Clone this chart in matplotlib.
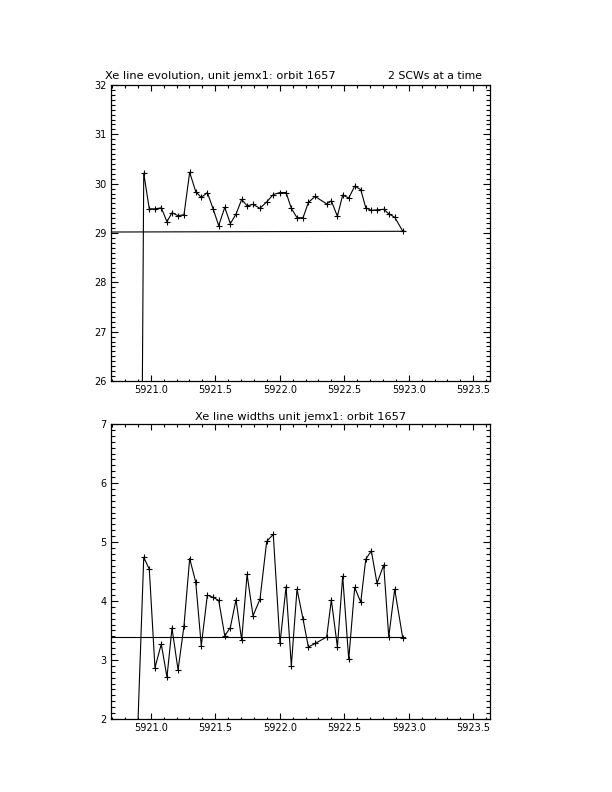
import matplotlib
matplotlib.use("Agg")
import matplotlib.pyplot as plt
from matplotlib.ticker import MultipleLocator, FormatStrFormatter

# ---- data ----
time = [5920.870, 5920.946, 5920.989, 5921.033, 5921.082, 5921.126, 5921.165, 5921.212,
        5921.258, 5921.302, 5921.349, 5921.392, 5921.439, 5921.485, 5921.527, 5921.574,
        5921.617, 5921.661, 5921.705, 5921.747, 5921.793, 5921.847, 5921.899, 5921.950,
        5922.002, 5922.049, 5922.090, 5922.134, 5922.181, 5922.222, 5922.274, 5922.364,
        5922.400, 5922.447, 5922.488, 5922.535, 5922.581, 5922.628, 5922.667, 5922.710,
        5922.754, 5922.806, 5922.845, 5922.891, 5922.953]

line_energy = [0.0, 30.21, 29.49, 29.49, 29.51, 29.23, 29.41, 29.35,
               29.37, 30.23, 29.84, 29.72, 29.82, 29.48, 29.15, 29.52,
               29.19, 29.38, 29.68, 29.55, 29.58, 29.50, 29.63, 29.78,
               29.82, 29.82, 29.50, 29.31, 29.31, 29.62, 29.74, 29.59,
               29.65, 29.34, 29.77, 29.71, 29.95, 29.88, 29.51, 29.46,
               29.47, 29.48, 29.39, 29.32, 29.04]

line_width = [0.0, 4.74, 4.54, 2.87, 3.27, 2.71, 3.54, 2.83,
              3.58, 4.72, 4.32, 3.24, 4.10, 4.06, 4.01, 3.41,
              3.55, 4.02, 3.34, 4.45, 3.75, 4.03, 5.01, 5.13,
              3.28, 4.24, 2.90, 4.20, 3.69, 3.22, 3.28, 3.39,
              4.02, 3.22, 4.42, 3.01, 4.23, 3.98, 4.71, 4.85,
              4.30, 4.61, 3.39, 4.20, 3.38]

ref_x = [5920.69, 5922.97]
energy_ref = [29.02, 29.035]
width_ref = [3.39, 3.39]

xlim = (5920.69, 5923.63)
top_title_left = "Xe line evolution, unit jemx1: orbit 1657"
top_title_right = "2 SCWs at a time"
bottom_title = "Xe line widths unit jemx1: orbit 1657"

# ---- figure ----
plt.rcParams['font.family'] = ['DejaVu Sans']
fig = plt.figure(figsize=(6.12, 7.92), dpi=100)

ax1 = fig.add_axes([0.1809, 0.5189, 0.6198, 0.3738])
ax2 = fig.add_axes([0.1809, 0.0922, 0.6198, 0.3724])

def style(ax, ylim):
    ax.set_xlim(*xlim)
    ax.set_ylim(*ylim)
    ax.xaxis.set_major_locator(MultipleLocator(0.5))
    ax.xaxis.set_minor_locator(MultipleLocator(0.1))
    ax.yaxis.set_major_locator(MultipleLocator(1))
    ax.yaxis.set_minor_locator(MultipleLocator(0.1))
    ax.xaxis.set_major_formatter(FormatStrFormatter('%.1f'))
    ax.yaxis.set_major_formatter(FormatStrFormatter('%d'))
    ax.tick_params(axis='both', which='both', direction='in', top=True, right=True,
                   width=0.8, colors='black', labelsize=7)
    ax.tick_params(axis='x', which='major', length=4.2, pad=3)
    ax.tick_params(axis='x', which='minor', length=1.8)
    ax.tick_params(axis='y', which='major', length=5.0, pad=3)
    ax.tick_params(axis='y', which='minor', length=2.8)
    for s in ax.spines.values():
        s.set_linewidth(0.9)

ax1.plot(time, line_energy, color='black', lw=0.8, marker='+', ms=4.8, mew=0.8)
ax1.plot(ref_x, energy_ref, color='black', lw=0.8)
style(ax1, (26, 32))
ax1.text(-0.015, 1.012, top_title_left, transform=ax1.transAxes, ha='left', va='bottom', fontsize=8.2)
ax1.text(0.978, 1.012, top_title_right, transform=ax1.transAxes, ha='right', va='bottom', fontsize=7.8)

ax2.plot(time, line_width, color='black', lw=0.8, marker='+', ms=4.8, mew=0.8)
ax2.plot(ref_x, width_ref, color='black', lw=0.8)
style(ax2, (2, 7))
ax2.set_title(bottom_title, fontsize=8.2, pad=3)

fig.savefig("out.png", dpi=100)
